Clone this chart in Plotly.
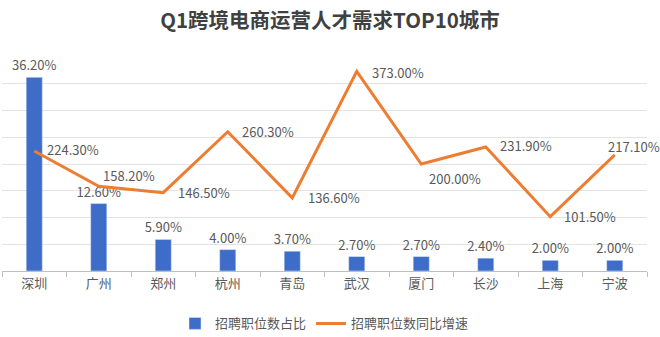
import plotly.graph_objects as go

cities = ["深圳", "广州", "郑州", "杭州", "青岛", "武汉", "厦门", "长沙", "上海", "宁波"]
share = [36.2, 12.6, 5.9, 4.0, 3.7, 2.7, 2.7, 2.4, 2.0, 2.0]
growth = [224.3, 158.2, 146.5, 260.3, 136.6, 373.0, 200.0, 231.9, 101.5, 217.1]
# label offsets (pixels) for the growth-rate labels
lbl_dx = [11, 2, 13, 12, 14, 13, 6, 12, 12, -9]
lbl_dy = [2, 11, 0, 0, 0, -1, -14, 1, 0, 8]

FONT = "Noto Sans CJK SC"
TXT = "#595959"

fig = go.Figure()
fig.add_trace(go.Bar(
    x=cities, y=share, name="招聘职位数占比",
    marker=dict(color="#3D6DC8"), width=0.25,
    text=[f"{v:.2f}%" for v in share], textposition="outside", constraintext="none",
    textfont=dict(size=13, color=TXT, family=FONT), cliponaxis=False,
))
fig.add_trace(go.Scatter(
    x=cities, y=growth, name="招聘职位数同比增速", yaxis="y2",
    mode="lines", line=dict(color="#ED7D31", width=3), cliponaxis=False,
))

annotations = []
for c, g, dx, dy in zip(cities, growth, lbl_dx, lbl_dy):
    annotations.append(dict(
        x=c, y=g, xref="x", yref="y2", text=f"{g:.2f}%", showarrow=False,
        xanchor="left", yanchor="middle", xshift=dx, yshift=dy,
        font=dict(size=13, color=TXT, family=FONT),
    ))

fig.update_layout(
    width=660, height=337,
    margin=dict(l=2, r=13, t=57, b=66, autoexpand=False),
    paper_bgcolor="white", plot_bgcolor="white",
    font=dict(family=FONT, color=TXT, size=13),
    title=dict(text="<b>Q1跨境电商运营人才需求TOP10城市</b>", x=0.5, xanchor="center",
               y=1 - 21 / 337, yanchor="middle", font=dict(size=20.5, color="#404040", family=FONT)),
    xaxis=dict(type="category", range=[-0.5, len(cities) - 0.5], showgrid=False,
               showline=True, linecolor="#BFBFBF",
               ticks="outside", tickson="boundaries", ticklen=5, tickcolor="#BFBFBF",
               tickfont=dict(size=13, color=TXT), automargin=False),
    yaxis=dict(range=[0, 40], dtick=5, showticklabels=False, gridcolor="#E3E3E3",
               zeroline=False, showline=False, automargin=False),
    yaxis2=dict(range=[0, 400], overlaying="y", side="right", showticklabels=False,
                showgrid=False, zeroline=False, automargin=False),
    annotations=annotations,
    showlegend=True,
    legend=dict(orientation="h", x=0.5, xanchor="center", y=-0.245, yanchor="middle",
                font=dict(size=13, color=TXT), itemwidth=30, traceorder="normal"),
)

fig.write_html("out.html")
